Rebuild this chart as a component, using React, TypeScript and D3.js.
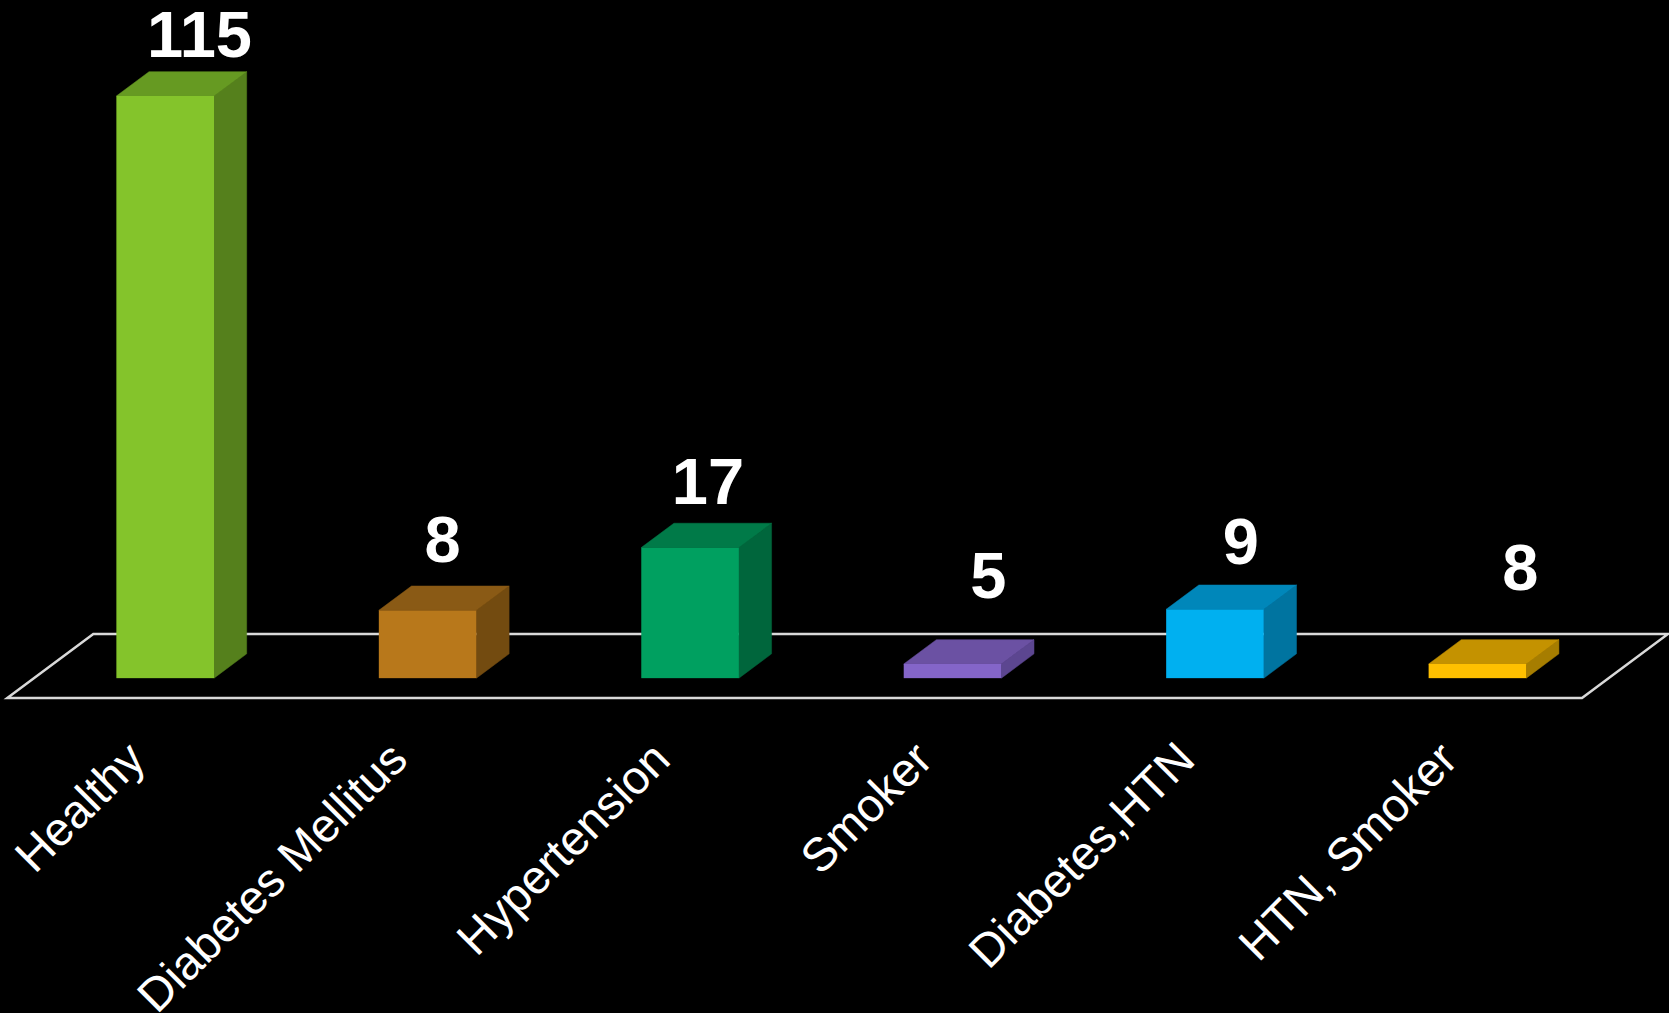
import React, { useEffect } from "react";
import * as d3 from "d3";

// ---- data ----
const categories = ["Healthy", "Diabetes Mellitus", "Hypertension", "Smoker", "Diabetes,HTN", "HTN, Smoker"];
// printed data labels
const valueLabels = [115, 8, 17, 5, 9, 8];
// bar heights as drawn in the picture (in the chart's value units)
const plottedValues = [115, 13.4, 25.8, 2.8, 13.6, 2.8];
const frontColors = ["#84C42B", "#B8781B", "#00A060", "#8465C9", "#00B0F0", "#FFC000"];
const sideColors = ["#55801C", "#734B10", "#00663C", "#5C4690", "#0074A0", "#A67D00"];
const topColors = ["#669A22", "#8A5A15", "#007A48", "#6B51A3", "#0087BA", "#C49200"];
// manual label nudges relative to the top-face centre [dx, dy]
const labelNudge = [[18, -27], [-1.5, -36], [1.5, -31], [19.5, -54], [9.5, -33], [26.5, -62]];

// ---- layout ----
const W = 1669, H = 1013;
const floorFrontY = 698;
const floorX0 = 7.3, floorX1 = 1582;
const depthDx = 86, depthDy = -64;
const barFrontFrac = 0.31, barDepthFrac = 0.38;
const barWidthRatio = 0.372;

export default function App() {
  useEffect(() => {
    document.body.style.margin = "0";
    document.body.style.background = "#000";
  }, []);

  const x = d3.scaleBand<string>().domain(categories).range([floorX0, floorX1]).padding(0);
  const step = x.step();
  const bw = step * barWidthRatio;
  const baseY = floorFrontY + barFrontFrac * depthDy;
  const y = d3.scaleLinear().domain([0, 115]).range([baseY, 96]);
  const bdx = barDepthFrac * depthDx, bdy = barDepthFrac * depthDy;

  const floorPts: [number, number][] = [
    [floorX0, floorFrontY],
    [floorX1, floorFrontY],
    [floorX1 + depthDx, floorFrontY + depthDy],
    [floorX0 + depthDx, floorFrontY + depthDy],
  ];
  const line = d3.line();

  return (
    <svg width={W} height={H} style={{ display: "block", background: "#000" }}>
      <rect x={0} y={0} width={W} height={H} fill="#000" />
      <path d={line(floorPts)! + "Z"} fill="none" stroke="#D9D9D9" strokeWidth={2.5} />
      {categories.map((c, i) => {
        const x0 = (x(c) as number) + (step - bw) / 2 + barFrontFrac * depthDx;
        const x1 = x0 + bw;
        const yt = y(plottedValues[i]);
        const yb = y(0);
        const side: [number, number][] = [[x1, yb], [x1 + bdx, yb + bdy], [x1 + bdx, yt + bdy], [x1, yt]];
        const top: [number, number][] = [[x0, yt], [x1, yt], [x1 + bdx, yt + bdy], [x0 + bdx, yt + bdy]];
        const cx = x0 + bw / 2 + bdx / 2 + labelNudge[i][0];
        const cy = yt + bdy / 2 + labelNudge[i][1];
        return (
          <g key={c}>
            <path d={line(side)! + "Z"} fill={sideColors[i]} stroke={sideColors[i]} strokeWidth={0.5} />
            <path d={line(top)! + "Z"} fill={topColors[i]} stroke={topColors[i]} strokeWidth={0.5} />
            <rect x={x0} y={yt} width={bw} height={yb - yt} fill={frontColors[i]} />
            <text x={cx} y={cy} textAnchor="middle" fill="#fff" fontFamily="Liberation Sans, Arial, sans-serif"
              fontWeight="bold" fontSize={65}>{valueLabels[i]}</text>
          </g>
        );
      })}
      {categories.map((c, i) => {
        const ax = (x(c) as number) + step / 2 + 9;
        const ay = 762;
        return (
          <text key={"l" + c} x={ax} y={ay} textAnchor="end" fill="#fff"
            fontFamily="Liberation Sans, Arial, sans-serif" fontSize={47}
            transform={`rotate(-45 ${ax} ${ay})`}>{c}</text>
        );
      })}
    </svg>
  );
}
